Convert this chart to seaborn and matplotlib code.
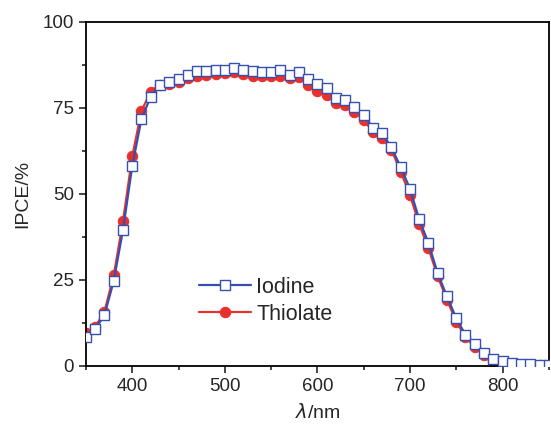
import numpy as np
import pandas as pd
import matplotlib
matplotlib.use("Agg")
import matplotlib.pyplot as plt
from matplotlib.ticker import MultipleLocator
import seaborn as sns

wavelength = list(range(350, 851, 10))
iodine = [8.5, 10.7, 14.8, 24.7, 39.5, 58.1, 71.8, 78.3, 81.7, 82.4,
          83.4, 84.6, 85.6, 85.8, 86.0, 86.0, 86.5, 86.0, 85.6, 85.3,
          85.5, 85.9, 84.6, 85.5, 83.5, 81.9, 80.7, 78.0, 77.3, 75.4,
          73.0, 69.3, 67.6, 63.5, 57.8, 51.5, 42.6, 35.7, 26.9, 20.2,
          13.9, 9.0, 6.3, 3.9, 1.9, 1.3, 0.8, 0.6, 0.5, 0.4, 0.4]
thiolate = [9.5, 11.4, 15.8, 26.3, 42.0, 60.9, 74.2, 79.7, 81.8, 82.0,
            82.5, 83.6, 84.2, 84.7, 85.0, 85.2, 85.5, 85.0, 84.2, 84.2,
            84.2, 84.2, 83.6, 84.0, 81.7, 79.9, 78.8, 76.5, 75.9, 73.9,
            71.5, 68.1, 66.2, 62.8, 56.5, 49.7, 41.2, 34.2, 26.0, 19.2,
            12.9, 8.3, 5.6, 3.2, 1.5, 0.8, 0.5, 0.4, 0.4, 0.3, 0.3]

sns.set_style("ticks")
plt.rcParams['font.family'] = ['Liberation Sans', 'DejaVu Sans']

fig = plt.figure(figsize=(5.51, 4.30), dpi=100)
ax = fig.add_axes([0.156, 0.149, 0.840, 0.800])

blue = "#3550b0"
red = "#e8302c"

df_t = pd.DataFrame({"x": wavelength, "y": thiolate})
df_i = pd.DataFrame({"x": wavelength, "y": iodine})

sns.lineplot(data=df_t, x="x", y="y", ax=ax, color=red, lw=1.6,
             marker="o", markersize=7.5, markerfacecolor=red,
             markeredgecolor=red, label="Thiolate", zorder=2)
sns.lineplot(data=df_i, x="x", y="y", ax=ax, color=blue, lw=1.6,
             marker="s", markersize=6.5, markerfacecolor="white",
             markeredgecolor=blue, markeredgewidth=1.0, label="Iodine", zorder=3)

ax.set_xlim(350, 850)
ax.set_ylim(0, 100)
ax.xaxis.set_major_locator(MultipleLocator(100))
ax.xaxis.set_minor_locator(MultipleLocator(50))
ax.yaxis.set_major_locator(MultipleLocator(25))
ax.yaxis.set_minor_locator(MultipleLocator(12.5))
ax.tick_params(which="major", direction="out", length=5, width=1.2,
               labelsize=13.5, top=False, right=False)
ax.tick_params(which="minor", direction="out", length=3, width=1.2,
               top=False, right=False)
for s in ax.spines.values():
    s.set_visible(True)
    s.set_linewidth(1.3)
    s.set_color("black")

ax.set_xlabel(r"$\lambda$/nm", fontsize=14, labelpad=6)
ax.set_ylabel("IPCE/%", fontsize=14, labelpad=8)

handles, labels = ax.get_legend_handles_labels()
order = [labels.index("Iodine"), labels.index("Thiolate")]
ax.legend([handles[i] for i in order], [labels[i] for i in order],
          loc="center left", bbox_to_anchor=(0.203, 0.19), frameon=False,
          fontsize=15.5, handlelength=2.4, handletextpad=0.25, labelspacing=0.28)

fig.savefig("out.png", dpi=100)
